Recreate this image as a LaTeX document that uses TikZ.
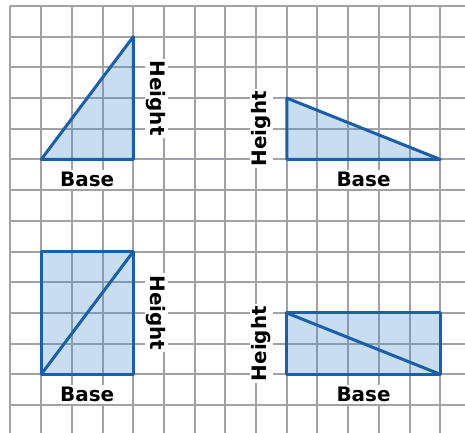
\documentclass[tikz,border=0pt]{standalone}
\usepackage{fontspec}
\setmainfont{DejaVu Sans}
\usepackage{xcolor}
\definecolor{areaBlue}{HTML}{1B5EA9}
\definecolor{areaFill}{RGB}{72,142,202}
\definecolor{areaGrid}{HTML}{A2A2A6}
\usepackage{tikz}

\begin{document}
\begin{tikzpicture}[
    x=30.7bp, y=30.7bp,
    gridline/.style={draw=areaGrid, line width=2bp},
    % blue outlined figures
    figure/.style={
        draw=areaBlue, line width=3bp, line join=round,
        fill=areaFill, fill opacity=0.3
    },
    diag/.style={draw=areaBlue, line width=3bp},
    lbl/.style={
        fill=white, inner sep=2bp,
        font=\fontsize{20}{22}\selectfont\bfseries
    },
]
\useasboundingbox (-0.342, 0.195) rectangle (14.805, -13.909);

%% =================================================================
%% Grid paper
%% =================================================================
\draw[gridline, step={(1,1)}] (0, -13.909) grid (14.805, 0);

%% =================================================================
%% Top-left: right triangle, height on the right
%% =================================================================
\draw[figure] (1, -5) -- (4, -5) -- (4, -1) -- cycle;
\node[lbl] (base1) at (2.5, -5.65) {Base};
\node[lbl, rotate=-90] (height1) at (4.75, -3) {Height};

%% =================================================================
%% Top-right: right triangle, height on the left
%% =================================================================
\draw[figure] (9, -3) -- (9, -5) -- (14, -5) -- cycle;
\node[lbl] (base2) at (11.5, -5.65) {Base};
\node[lbl, rotate=90] (height2) at (8.17, -4) {Height};

%% =================================================================
%% Bottom-left: rectangle split by a diagonal
%% =================================================================
\draw[figure] (1, -8) rectangle (4, -12);
\draw[diag] (1, -12) -- (4, -8);
\node[lbl] (base3) at (2.5, -12.65) {Base};
\node[lbl, rotate=-90] (height3) at (4.75, -10) {Height};

%% =================================================================
%% Bottom-right: rectangle split by a diagonal
%% =================================================================
\draw[figure] (9, -10) rectangle (14, -12);
\draw[diag] (9, -10) -- (14, -12);
\node[lbl] (base4) at (11.5, -12.65) {Base};
\node[lbl, rotate=90] (height4) at (8.17, -11) {Height};

\end{tikzpicture}
\end{document}
